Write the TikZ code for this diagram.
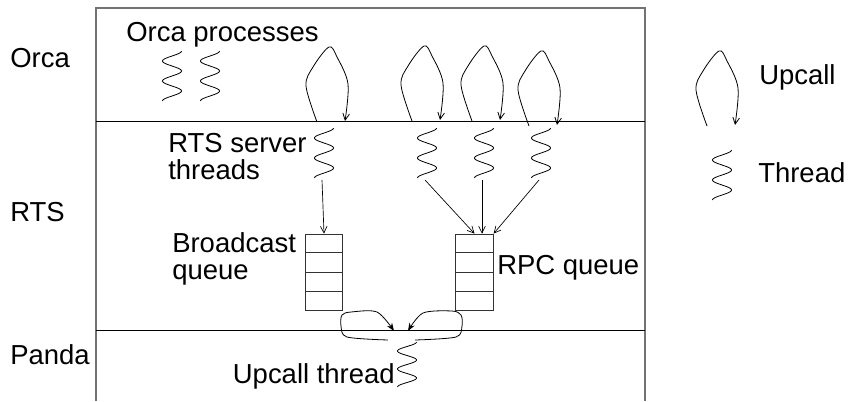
\documentclass[tikz,border=0pt]{standalone}
\usepackage{fontspec}
\setmainfont{Liberation Sans}
\usetikzlibrary{arrows.meta,calc}

\tikzset{
  frame/.style={draw=black!55, line width=1.1pt},
  layer/.style={draw, line width=0.7pt},
  lbl/.style={inner sep=0pt, font=\fontsize{20.6}{20.6}\selectfont},
  arr/.style={line width=0.5pt, -{Straight Barb[length=5pt,width=5pt]}},
  queue/.style={draw=black!80, line width=0.6pt, minimum width=28.1pt, minimum height=57pt, inner sep=0pt},
  thread/.pic={
    \draw[line width=0.6pt] plot[domain=0:50, samples=80, smooth] ({9.5*cos(\x*18)}, \x);
    \coordinate (-top) at (0,0);
    \coordinate (-bot) at (-2,52);
  },
  upcall/.pic={
    \draw[line width=0.6pt, -{Straight Barb[length=5pt,width=5pt]}]
      plot[smooth, tension=0.55] coordinates {(0,0) (-11,-36) (-4,-55) (12,-75) (20,-65) (31,-38) (28,-1)};
  },
}

\begin{document}
\begin{tikzpicture}[x=0.75pt, y=-0.75pt]
  \useasboundingbox (0,0) rectangle (848,401);

  % layers
  \draw[frame] (96,401) -- (96,8) -- (645,8) -- (645,401);
  \draw[layer] (96,121) -- (645,121);
  \draw[layer] (96,330) -- (645,330);

  \node[lbl, anchor=base west] (orca)  at (10,67)  {Orca};
  \node[lbl, anchor=base west] (rts)   at (10,221) {RTS};
  \node[lbl, anchor=base west] (panda) at (10,364) {Panda};

  % Orca level
  \node[lbl, anchor=base west] (procs) at (126,41) {Orca processes};
  \pic (p1) at (172,51) {thread};
  \pic (p2) at (210,51) {thread};
  \pic (u1) at (317,122) {upcall};
  \pic (u2) at (412,121) {upcall};
  \pic (u3) at (472,121) {upcall};
  \pic (u4) at (529,126) {upcall};

  % RTS level
  \node[lbl, anchor=base west] (srv1) at (168,152) {RTS server};
  \node[lbl, anchor=base west] (srv2) at (168,179) {threads};
  \pic (ts) at (324,128) {thread};
  \pic (t1) at (427,128) {thread};
  \pic (t2) at (484,128) {thread};
  \pic (t3) at (541,128) {thread};

  \node[queue] (bq) at (324,272) {};
  \node[queue] (rq) at (474.5,272) {};
  \foreach \q in {bq,rq}
    \foreach \i in {1,2,3}
      \draw[draw=black!80, line width=0.6pt] ($(\q.north west)!\i/4!(\q.south west)$) -- ($(\q.north east)!\i/4!(\q.south east)$);
  \node[lbl, anchor=base west] (bc1) at (172,252) {Broadcast};
  \node[lbl, anchor=base west] (bc2) at (172,279) {queue};
  \node[lbl, anchor=base west] (rpc) at (497,274) {RPC queue};

  \draw[arr] (ts-bot) -- (bq.north);
  \draw[arr] (t1-bot) -- (rq.north);
  \draw[arr] (t2-bot) -- (t2-bot |- rq.north);
  \draw[arr] (t3-bot) -- (rq.north east);

  % Panda level
  \pic[yscale=0.9] (ut) at (407,342) {thread};
  \node[lbl, anchor=base east] (utl) at (395,383) {Upcall thread};
  \draw[line width=0.6pt, -{Stealth[length=6pt,width=4.5pt]}]
    plot[smooth, tension=0.5] coordinates {(388,340) (347,337) (341,326) (342,315) (351,312) (377,312) (394,331)};
  \draw[line width=0.6pt, -{Stealth[length=6pt,width=4.5pt]}]
    plot[smooth, tension=0.5] coordinates {(415,340) (456,337) (462,326) (461,315) (452,311) (423,313) (408,331)};

  % legend
  \pic (lu) at (707,126) {upcall};
  \node[lbl, anchor=base west] (lul) at (759,84) {Upcall};
  \pic (lt) at (722,150) {thread};
  \node[lbl, anchor=base west] (ltl) at (758,182) {Thread};
\end{tikzpicture}
\end{document}
